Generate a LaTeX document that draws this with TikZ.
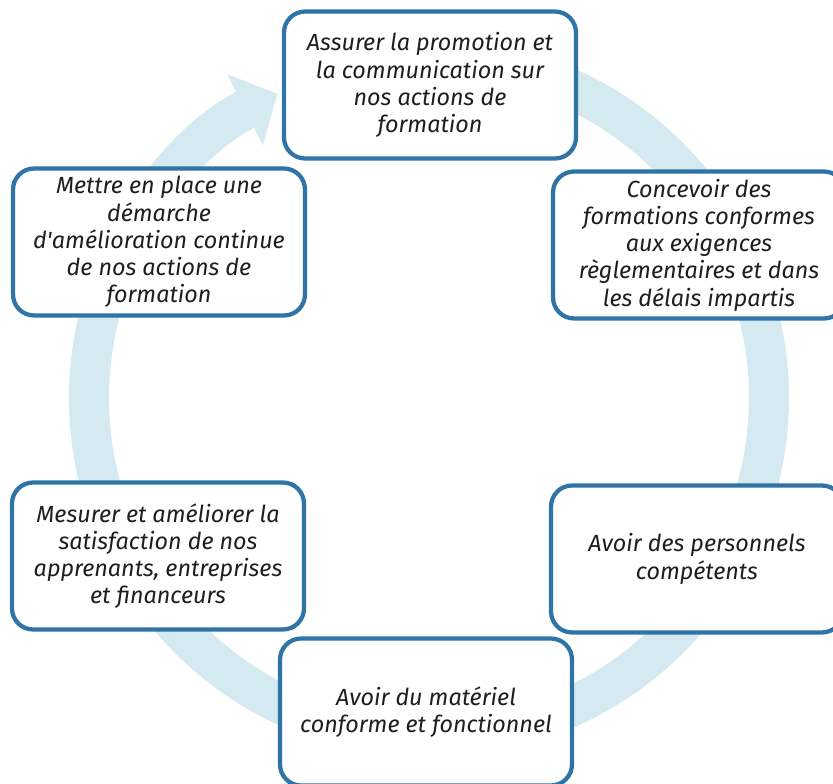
\documentclass[tikz,border=0pt]{standalone}
\usepackage{fontspec}
\setmainfont{Fira Sans}
\usetikzlibrary{arrows.meta, positioning, calc}
\definecolor{bleuboite}{HTML}{2E74A6}
\definecolor{bleucycle}{HTML}{D5E9F0}
\definecolor{texte}{HTML}{1E1E1E}
\tikzset{
    % Define style for boxes
    boite/.style={
           rectangle,
           rounded corners=0.42cm,
           draw=bleuboite, line width=0.085cm,
           fill=white,
           inner sep=0pt,
           minimum width=5.84cm,
           minimum height=2.94cm,
           align=center,
           text=texte,
           font=\fontsize{13.3}{15.5}\selectfont\itshape},
    % Define style for the cycle arrow
    fleche/.style={
           -{Triangle[width=1.55cm, length=0.72cm]},
           draw=bleucycle,
           line width=0.8cm}
}

\begin{document}
\begin{tikzpicture}[x=0.02cm, y=-0.02cm]
	\useasboundingbox (0,0) rectangle (833,784);
	\clip (0,0) rectangle (833,784);
	%
	% cycle
	%
	\coordinate (centre) at (429,398);
	\draw[fleche] ($(centre)+(80:6.8cm)$) arc[start angle=80, end angle=-243.5, radius=6.8cm];
	%
	% noeuds
	%
	\node[boite] (promo) at (430,85) {Assurer la promotion et\\la communication sur\\nos actions de\\formation};
	\node[boite] (conception) at (699,245) {Concevoir des\\formations conformes\\aux exigences\\règlementaires et dans\\les délais impartis};
	\node[boite] (personnel) at (697,559) {Avoir des personnels\\compétents};
	\node[boite] (materiel) at (426,712) {Avoir du matériel\\conforme et fonctionnel};
	\node[boite] (satisfaction) at (158,556) {Mesurer et améliorer la\\satisfaction de nos\\apprenants, entreprises\\et financeurs};
	\node[boite] (amelioration) at (159,242) {Mettre en place une\\démarche\\d\textquotesingle amélioration continue\\de nos actions de\\formation};
\end{tikzpicture}
\end{document}
